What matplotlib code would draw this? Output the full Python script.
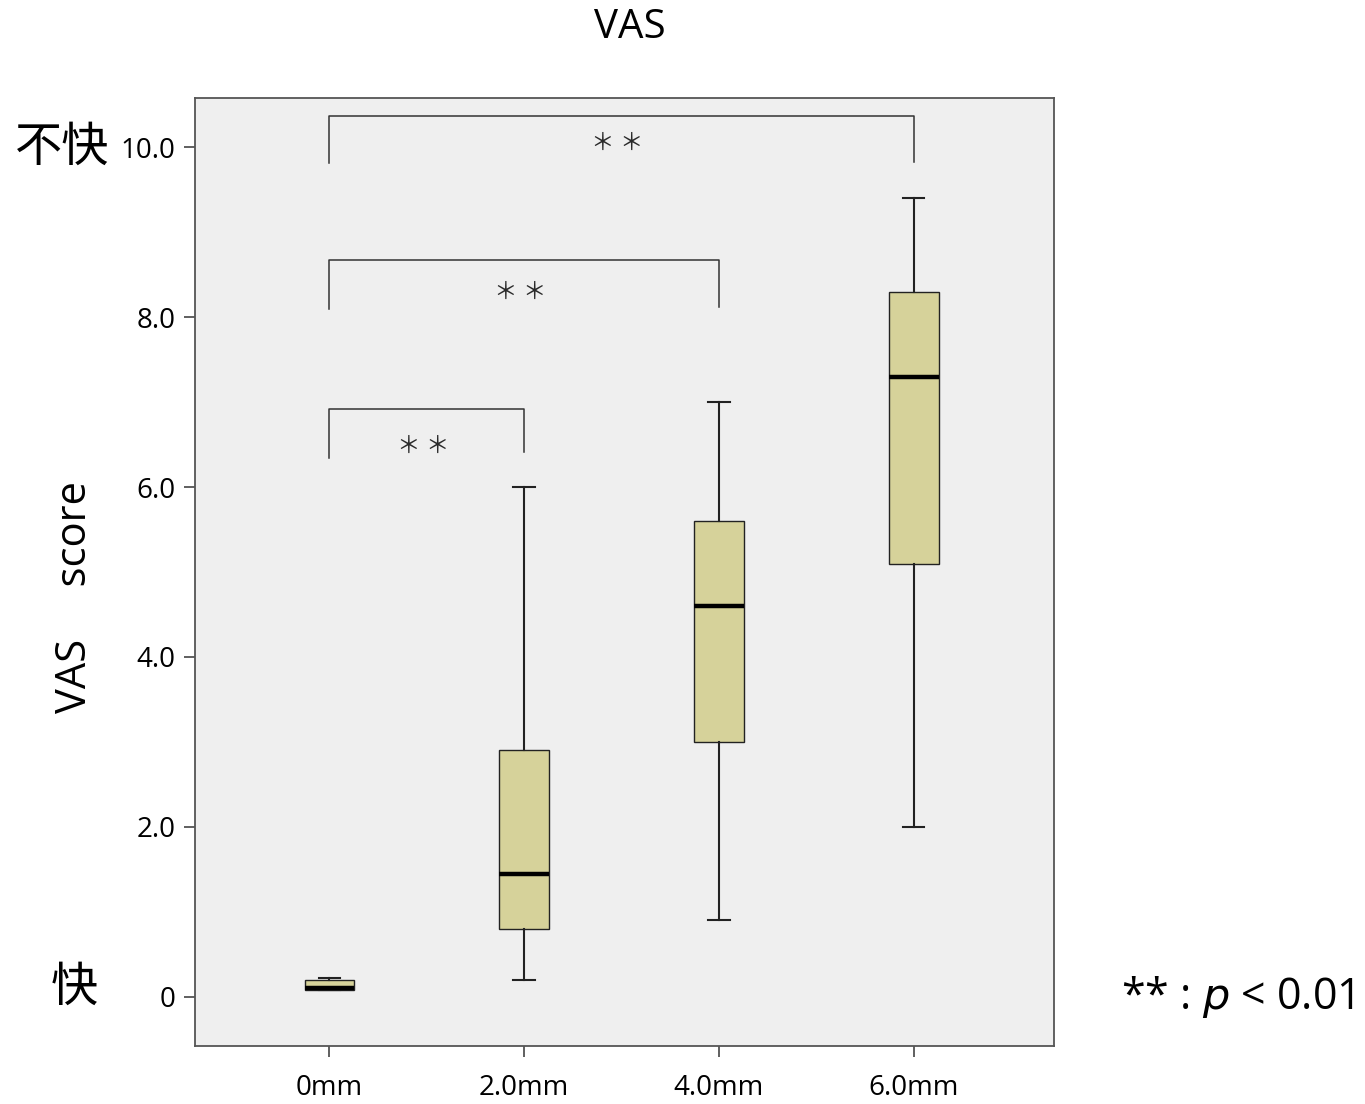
import matplotlib
matplotlib.use("Agg")
import matplotlib.pyplot as plt

plt.rcParams['font.family'] = ['Open Sans', 'Noto Sans CJK JP', 'DejaVu Sans']

# data
groups = ["0mm", "2.0mm", "4.0mm", "6.0mm"]
whis_lo = [0.08, 0.2, 0.9, 2.0]
q1 = [0.08, 0.8, 3.0, 5.1]
medians = [0.1, 1.45, 4.6, 7.3]
q3 = [0.2, 2.9, 5.6, 8.3]
whis_hi = [0.22, 6.0, 7.0, 9.4]

yticks = [0, 2, 4, 6, 8, 10]
ytick_labels = ["0", "2.0", "4.0", "6.0", "8.0", "10.0"]

# significance brackets: (group a, group b, top, left leg end, right leg end, star y)
brackets = [
    (0, 3, 10.37, 9.82, 9.83, 10.05),
    (0, 2, 8.67, 8.10, 8.12, 8.29),
    (0, 1, 6.92, 6.34, 6.41, 6.48),
]

fig = plt.figure(figsize=(13.65, 11.04), dpi=100)
ax = fig.add_axes([195/1365, 1 - 1046/1104, (1054-195)/1365, (1046-98)/1104])
ax.set_facecolor("#efefef")

stats = []
for i, g in enumerate(groups):
    stats.append(dict(label=g, whislo=whis_lo[i], q1=q1[i], med=medians[i],
                      q3=q3[i], whishi=whis_hi[i], fliers=[]))

pos = list(range(len(groups)))
ax.bxp(stats, positions=pos, widths=0.255, patch_artist=True, showfliers=False,
       boxprops=dict(facecolor="#d6d29a", edgecolor="#222222", linewidth=1.0),
       medianprops=dict(color="black", linewidth=3.2),
       whiskerprops=dict(color="#222222", linewidth=1.5),
       capprops=dict(color="#222222", linewidth=1.5),
       capwidths=0.11)

for a, b, top, la, lb, sy in brackets:
    ax.plot([a, a, b, b], [la, top, top, lb], color="#333333", lw=1.1)
    ax.text((a + b) / 2 - 0.02, sy, "＊ ＊", ha="center", va="center",
            fontsize=17, color="#2a2a2a", family=['Noto Sans CJK JP', 'DejaVu Sans'])

ax.set_xlim(-0.69, 3.72)
ax.set_ylim(-0.58, 10.58)
ax.set_xticks(pos)
ax.set_xticklabels(groups, fontsize=20)
ax.set_yticks(yticks)
ax.set_yticklabels(ytick_labels, fontsize=20)
ax.tick_params(axis="both", direction="out", length=8, width=1.2, color="#444444")
ax.tick_params(axis="x", pad=12)
ax.tick_params(axis="y", pad=6)
for s in ax.spines.values():
    s.set_color("#555555")
    s.set_linewidth(1.3)

fig.text(630/1365, 1 - 28/1104, "VAS", ha="center", va="center", fontsize=29)
fig.text(75/1365, 1 - 597/1104, "VAS\u3000 score", rotation=90, ha="center",
         va="center", fontsize=30)
fig.text(62/1365, 1 - 148/1104, "不快", ha="center", va="center", fontsize=34,
         family=['Noto Sans CJK JP', 'DejaVu Sans'])
fig.text(74/1365, 1 - 988/1104, "快", ha="center", va="center", fontsize=34,
         family=['Noto Sans CJK JP', 'DejaVu Sans'])
fig.text(1354/1365, 1 - 997/1104, r"** : $\it{p}$ < 0.01", ha="right", va="center",
         fontsize=31)

fig.savefig("out.png", dpi=100)
